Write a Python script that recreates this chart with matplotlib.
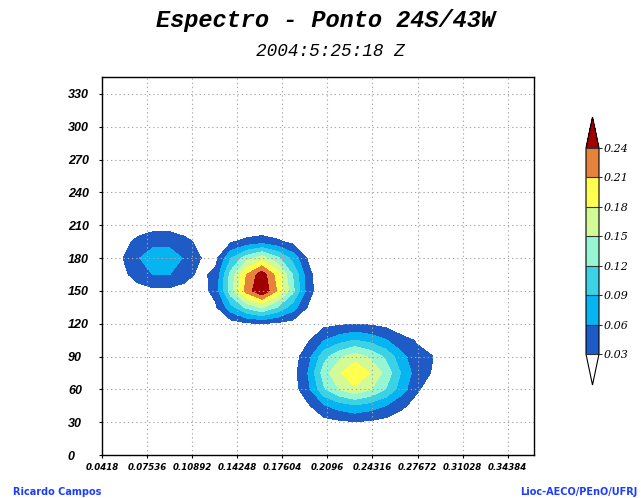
import numpy as np
import matplotlib
matplotlib.use("Agg")
import matplotlib.pyplot as plt

# Frequency (Hz) and direction (deg) nodes of the spectral grid
freq = [0.0455, 0.0571, 0.0686, 0.0801, 0.0917, 0.1032, 0.1147, 0.1263,
        0.1378, 0.1493, 0.1609, 0.1724, 0.1839, 0.1955, 0.2070, 0.2185,
        0.2301, 0.2416, 0.2531, 0.2647, 0.2762, 0.2877, 0.2993]
direction = [15, 30, 45, 60, 75, 90, 105, 120, 135, 150, 165, 180, 195, 210, 225]

# Spectral energy density, one row per direction
energy = [
    [0, 0, 0, 0, 0, 0, 0, 0, 0, 0, 0, 0, .001, .002, .004, .005, .006, .005, .004, .003, .001, .001, 0],
    [0, 0, 0, 0, 0, 0, 0, 0, 0, 0, 0, .001, .003, .009, .019, .024, .028, .025, .019, .012, .006, .004, .001],
    [0, 0, 0, 0, 0, 0, 0, 0, 0, 0, 0, .004, .008, .026, .057, .074, .086, .075, .059, .036, .019, .012, .003],
    [0, 0, 0, 0, 0, 0, 0, 0, 0, 0, 0, .008, .015, .053, .115, .151, .174, .152, .119, .074, .034, .015, .005],
    [0, 0, 0, 0, 0, 0, 0, 0, 0, 0, 0, .009, .018, .062, .135, .176, .205, .179, .140, .087, .045, .028, .006],
    [0, 0, 0, 0, 0, 0, 0, 0, 0, 0, 0, .007, .015, .050, .109, .143, .166, .145, .113, .070, .036, .031, .008],
    [0, 0, 0, 0, 0, 0, 0, 0, 0, .001, .001, .005, .008, .027, .059, .077, .090, .079, .062, .038, .028, .012, .003],
    [0, 0, 0, 0, 0, 0, .001, .004, .015, .024, .029, .023, .017, .013, .020, .025, .029, .025, .020, .012, .006, .004, .001],
    [.001, .002, .003, .005, .005, .003, .006, .025, .079, .127, .154, .118, .074, .026, .009, .007, .008, .007, .006, .003, .002, .001, 0],
    [.004, .009, .017, .023, .023, .017, .016, .040, .139, .222, .268, .207, .128, .041, .007, .001, .001, .001, .001, 0, 0, 0, 0],
    [.010, .022, .044, .061, .061, .044, .022, .038, .131, .210, .258, .196, .118, .038, .006, 0, 0, 0, 0, 0, 0, 0, 0],
    [.013, .029, .058, .077, .077, .057, .031, .020, .089, .136, .166, .127, .079, .025, .004, 0, 0, 0, 0, 0, 0, 0, 0],
    [.009, .019, .038, .051, .051, .038, .023, .016, .027, .038, .046, .035, .022, .007, .001, 0, 0, 0, 0, 0, 0, 0, 0],
    [.003, .006, .013, .017, .017, .013, .007, .004, .003, .003, .003, .002, .001, 0, 0, 0, 0, 0, 0, 0, 0, 0, 0],
    [.001, .001, .002, .003, .003, .002, .001, 0, 0, 0, 0, 0, 0, 0, 0, 0, 0, 0, 0, 0, 0, 0, 0],
]

levels = [0.03, 0.06, 0.09, 0.12, 0.15, 0.18, 0.21, 0.24]
level_labels = ["0.03", "0.06", "0.09", "0.12", "0.15", "0.18", "0.21", "0.24"]
shade_colors = [(1, 1, 1, 0),
                "#1e5bc6", "#05b4f0", "#3cd2e6", "#96f5d2",
                "#d2fa96", "#ffff50", "#e6823c",
                "#a00000"]

xticks = [0.0418, 0.07536, 0.10892, 0.14248, 0.17604, 0.2096,
          0.24316, 0.27672, 0.31028, 0.34384]
xtick_labels = ["0.0418", "0.07536", "0.10892", "0.14248", "0.17604", "0.2096",
                "0.24316", "0.27672", "0.31028", "0.34384"]
yticks = [0, 30, 60, 90, 120, 150, 180, 210, 240, 270, 300, 330]

W, H = 641, 498
fig = plt.figure(figsize=(W / 100, H / 100), dpi=100)
fig.patch.set_facecolor("white")

ax = fig.add_axes([102 / W, 1 - 455 / H, 432 / W, 378 / H])
cf = ax.contourf(freq, direction, np.array(energy), levels=levels,
                 colors=shade_colors, extend="both")

ax.set_xlim(0.0418, 0.3634)
ax.set_ylim(0, 345.5)
ax.set_xticks(xticks)
ax.set_xticklabels(xtick_labels, fontfamily="DejaVu Sans",
                   fontweight="bold", fontstyle="oblique", fontsize=6.2)
ax.set_yticks(yticks)
ax.set_yticklabels([str(v) for v in yticks], fontfamily="Liberation Sans",
                   fontweight="bold", fontstyle="italic", fontsize=9)
plt.setp(ax.get_yticklabels(), ha="left")
ax.tick_params(axis="x", direction="out", length=2.2, width=0.8, pad=3.5)
ax.tick_params(axis="y", direction="out", length=2.0, width=0.8, pad=22.5)
ax.set_axisbelow(False)
ax.grid(True, color="#a8a8a8", linewidth=0.8, linestyle=(0, (1.2, 2.6)))
for sp in ax.spines.values():
    sp.set_linewidth(1.0)
    sp.set_color("black")
    sp.set_zorder(5)

# Colour bar with triangular ends
cax = fig.add_axes([586 / W, 1 - 385 / H, 13 / W, 268 / H])
cb = fig.colorbar(cf, cax=cax, extendfrac=31 / 207, drawedges=True,
                  ticks=levels)
cb.outline.set_linewidth(0.8)
cb.outline.set_edgecolor("black")
cb.dividers.set_color("#333333")
cb.dividers.set_linewidth(0.8)
cax.set_yticklabels(level_labels, fontfamily="DejaVu Serif",
                    fontstyle="italic", fontsize=8)
cax.tick_params(length=2, width=0.6, pad=1.5)

# Titles
fig.text(326 / W, 1 - 27 / H, "Espectro - Ponto 24S/43W", ha="center",
         va="baseline", fontfamily="Liberation Mono", fontweight="bold",
         fontstyle="italic", fontsize=17)
fig.text(330 / W, 1 - 56 / H, "2004:5:25:18 Z", ha="center", va="baseline",
         fontfamily="Liberation Mono", fontstyle="italic", fontsize=12.8)

# Credits
fig.text(13 / W, 1 - 495 / H, "Ricardo Campos", ha="left", va="baseline",
         fontfamily="DejaVu Sans", fontweight="bold", fontsize=7,
         color="#1e3cff")
fig.text(637 / W, 1 - 495 / H, "Lioc-AECO/PEnO/UFRJ", ha="right",
         va="baseline", fontfamily="DejaVu Sans", fontweight="bold",
         fontsize=7, color="#1e3cff")

fig.savefig("out.png", dpi=100)
